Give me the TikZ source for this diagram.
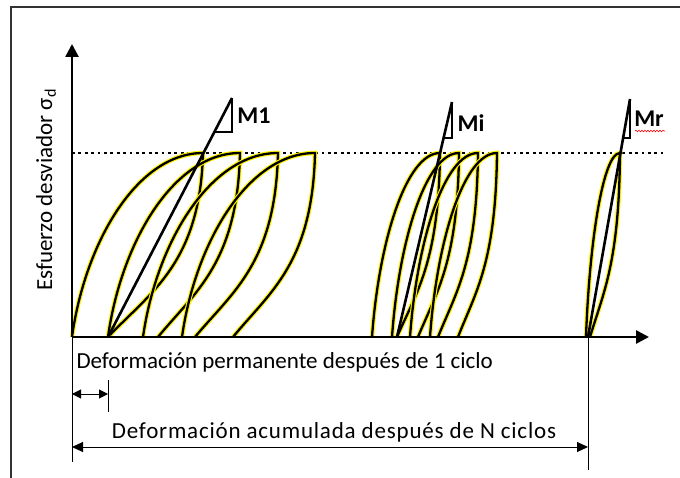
\documentclass[tikz,border=0pt]{standalone}
\usepackage{fontspec}
\setmainfont{Carlito}
\usetikzlibrary{arrows.meta, decorations.pathmorphing}

\tikzset{
  lazo/.style={draw=yellow, line width=1.1pt, double=black, double distance=2.3pt},
  modulo/.style={line width=2.6pt},
  triang/.style={line width=1.1pt},
  eje/.style={line width=2.6pt, -{Triangle[length=13pt,width=13pt]}},
  cota/.style={line width=1pt},
  rotulo/.style={font=\fontsize{23}{27}\selectfont},
  etiq/.style={font=\fontsize{24}{28}\selectfont\bfseries},
}

% inicio, pico, fin de un ciclo de carga
\newcommand{\ciclo}[3]{%
  \pgfmathsetmacro{\anchoC}{#2-#1}
  \pgfmathsetmacro{\anchoD}{#2-#3}
  \draw[lazo] (#1,337) .. controls +(0.1*\anchoC,-95) and +(-0.5*\anchoC,0) .. (#2,153)
     .. controls +(-0.03*\anchoD,110) and +(0.45*\anchoD,-45) .. (#3,337);
}

\begin{document}
\begin{tikzpicture}[x=1pt, y=-1pt]
\useasboundingbox (0,0) rectangle (680,478);
\draw[line width=1.6pt, black!80] (11,478) -- (11,7) -- (680,7);

% ejes
\coordinate (o) at (72,337);
\coordinate (ytop) at (72,44);
\coordinate (xtop) at (649,337);
\node[rotulo, rotate=90] (ylab) at (46,190) {Esfuerzo desviador σ\textsubscript{d}};

% nivel de esfuerzo
\coordinate (n0) at (72,153);
\coordinate (n1) at (663,153);
\draw[line width=2.8pt, dash pattern=on 2.8pt off 3.6pt] (n0) -- (n1);

% ciclos
\ciclo{72}{203}{108}
\ciclo{108}{240}{158}
\ciclo{143}{278}{195}
\ciclo{182}{315}{233}

\ciclo{372}{440}{397}
\ciclo{392}{459}{418}
\ciclo{410}{478}{438}
\ciclo{430}{497}{458}

\ciclo{586}{620}{590}

\draw[eje] (o) -- (ytop);
\draw[eje] (o) -- (xtop);

% modulos
\coordinate (e1) at (108,337);
\coordinate (m1) at (232,98);
\draw[modulo] (e1) -- (m1);
\draw[triang] (m1) -- (232,132) -- (214,132);
\node[etiq] (lm1) at (254,116) {M1};

\coordinate (ei) at (397,337);
\coordinate (mi) at (452,102);
\draw[modulo] (ei) -- (mi);
\draw[triang] (mi) -- (452,138) -- (444,138);
\node[etiq] (lmi) at (471,123) {Mi};

\coordinate (er) at (588,337);
\coordinate (mr) at (630,99);
\draw[modulo] (er) -- (mr);
\draw[triang] (mr) -- (630,138) -- (623,138);
\node[etiq] (lmr) at (649,119) {Mr};
\draw[red, line width=0.6pt, decorate, decoration={snake, amplitude=0.8pt, segment length=3pt}]
  (635,131) -- (665,131);

% cotas
\coordinate (c0) at (72,462);
\coordinate (c1) at (588,470);
\coordinate (t1) at (108,412);
\draw[cota] (o) -- (c0);
\draw[cota] (er) -- (c1);
\draw[cota] (108,380) -- (t1);
\draw[cota, {Triangle[length=9pt,width=9pt]}-{Triangle[length=9pt,width=9pt]}] (72,394) -- (108,394);
\draw[cota, {Triangle[length=11pt,width=10pt]}-{Triangle[length=11pt,width=10pt]}] (72,447) -- (588,447);
\node[rotulo, anchor=west] (dp) at (73,362) {Deformación permanente después de 1 ciclo};
\node[rotulo] (da) at (334,432) {\addfontfeature{LetterSpace=3.5}Deformación acumulada después de N ciclos};
\end{tikzpicture}
\end{document}
